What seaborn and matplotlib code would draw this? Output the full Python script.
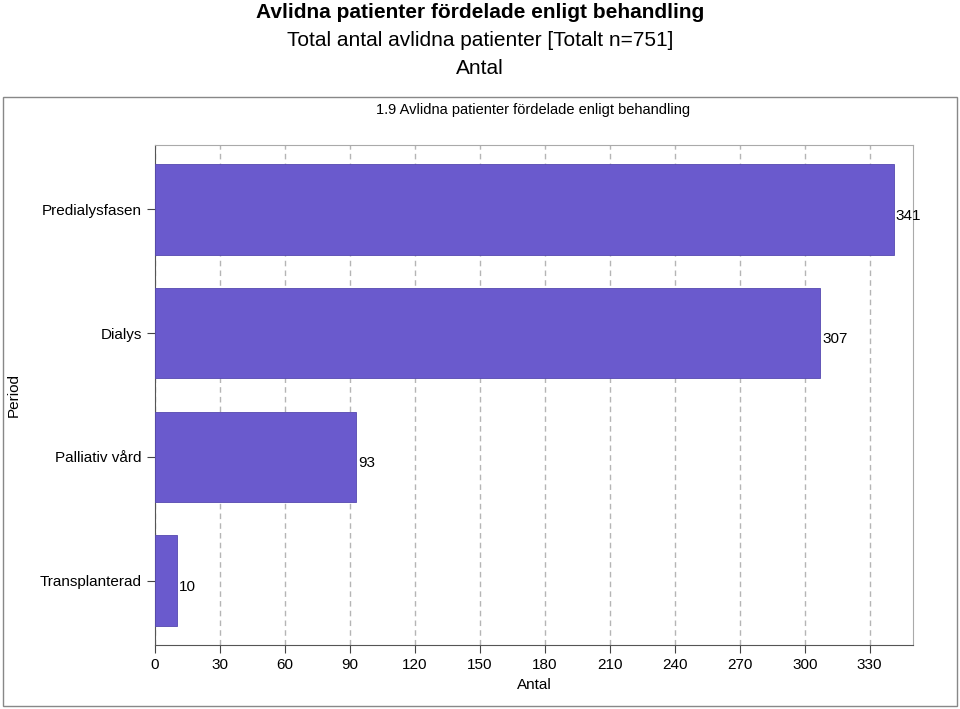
import matplotlib
matplotlib.use("Agg")
import matplotlib.pyplot as plt
import seaborn as sns
import pandas as pd
from matplotlib.patches import Rectangle

categories = ["Predialysfasen", "Dialys", "Palliativ vård", "Transplanterad"]
values = [341, 307, 93, 10]
xticks = list(range(0, 331, 30))

df = pd.DataFrame({"Period": categories, "Antal": values})

plt.rcParams["font.family"] = "Liberation Sans"
fig = plt.figure(figsize=(9.6, 7.09), dpi=100, facecolor="white")
fig.patches.append(Rectangle((3/960, 1-706/709), 954/960, 609/709, transform=fig.transFigure,
                             facecolor="white", edgecolor="#888888", lw=1, zorder=-1))
fig.text(0.5, 1-13/709, "Avlidna patienter fördelade enligt behandling", ha="center", va="center",
         fontsize=15, fontweight="bold")
fig.text(0.5, 1-41/709, "Total antal avlidna patienter [Totalt n=751]", ha="center", va="center", fontsize=15)
fig.text(0.5, 1-69/709, "Antal", ha="center", va="center", fontsize=15)
fig.text(533/960, 1-110/709, "1.9 Avlidna patienter fördelade enligt behandling", ha="center", va="center", fontsize=10.5)

ax = fig.add_axes([155/960, 1-645/709, 758/960, 500/709])
sns.barplot(data=df, y="Period", x="Antal", orient="h", color="#6a5acd", saturation=1,
            width=0.73, ax=ax, zorder=3, edgecolor="#5548b0", linewidth=0.6)
ax.set_xlim(0, 350)
ax.set_ylim(3.52, -0.52)
ax.set_xticks(xticks)
ax.set_xticklabels([str(t) for t in xticks], fontsize=11)
ax.tick_params(axis="y", labelsize=11, length=6, color="#444444")
ax.tick_params(axis="x", length=6, color="#444444")
ax.grid(axis="x", linestyle=(0, (4, 3)), color="#b5b5b5", lw=1, zorder=0)
for s in ax.spines.values():
    s.set_color("#aaaaaa")
ax.spines["left"].set_color("#555555")
ax.spines["bottom"].set_color("#555555")
for i, v in enumerate(values):
    ax.text(v + 1, i + 0.05, str(v), va="center", ha="left", fontsize=11)
ax.set_xlabel("Antal", fontsize=11)
ax.set_ylabel("Period", fontsize=11, labelpad=14)
fig.savefig("out.png", dpi=100, facecolor="white")
